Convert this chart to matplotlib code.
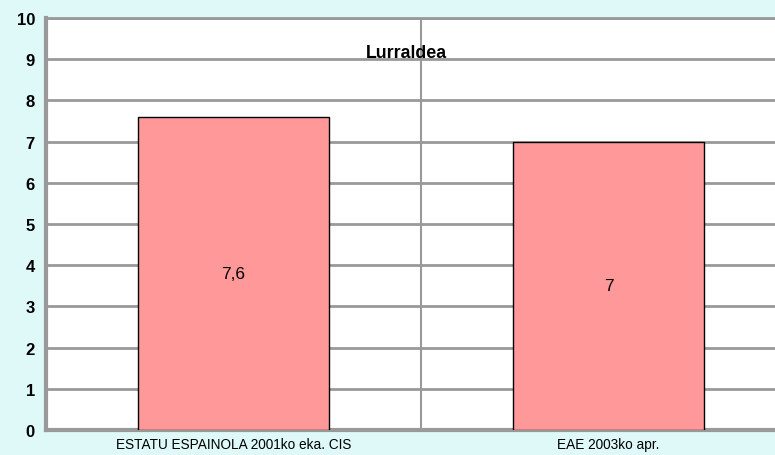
import matplotlib.pyplot as plt
import numpy as np

categories = ["ESTATU ESPAINOLA 2001ko eka. CIS", "EAE 2003ko apr."]
values = [7.6, 7.0]
value_labels = ["7,6", "7"]
title = "Lurraldea"

plt.rcParams['font.family'] = ['Liberation Sans', 'DejaVu Sans']

fig = plt.figure(figsize=(7.75, 4.56), dpi=100)
fig.patch.set_facecolor("#DFF8F8")
ax = fig.add_axes([46 / 775, 25 / 456, 750 / 775, 412 / 456])
ax.set_facecolor("white")

x = np.arange(len(categories))
ax.bar(x, values, width=0.51, color="#FF9999", edgecolor="black", linewidth=1, zorder=3)
for xi, v, lab in zip(x, values, value_labels):
    ax.text(xi, v / 2, lab, ha="center", va="center", fontsize=12.5, zorder=4)

ax.set_xlim(-0.5, len(categories) - 0.5)
ax.set_ylim(0, 10)
ax.set_yticks(range(0, 11))
ax.set_xticks(x)
ax.set_xticklabels(categories, fontsize=9.8)
ax.set_xticks(x[:-1] + 0.5, minor=True)

ax.grid(axis="y", color="#999999", linewidth=2, zorder=1)
ax.grid(axis="x", which="minor", color="#999999", linewidth=1.5, zorder=1)
ax.tick_params(axis="both", which="both", length=0)
ax.tick_params(axis="y", pad=8)
ax.tick_params(axis="x", pad=5)
for lab in ax.get_yticklabels():
    lab.set_fontweight("bold")
    lab.set_fontsize(12)

for side in ["left", "bottom"]:
    ax.spines[side].set_color("#999999")
    ax.spines[side].set_linewidth(3)
ax.spines["top"].set_color("#999999")
ax.spines["top"].set_linewidth(2)
ax.spines["right"].set_visible(False)

ax.text(0.46, 9.17, title, ha="center", va="center", fontsize=12.8,
        fontweight="bold", zorder=4)

fig.savefig("out.png", dpi=100, facecolor=fig.get_facecolor())
